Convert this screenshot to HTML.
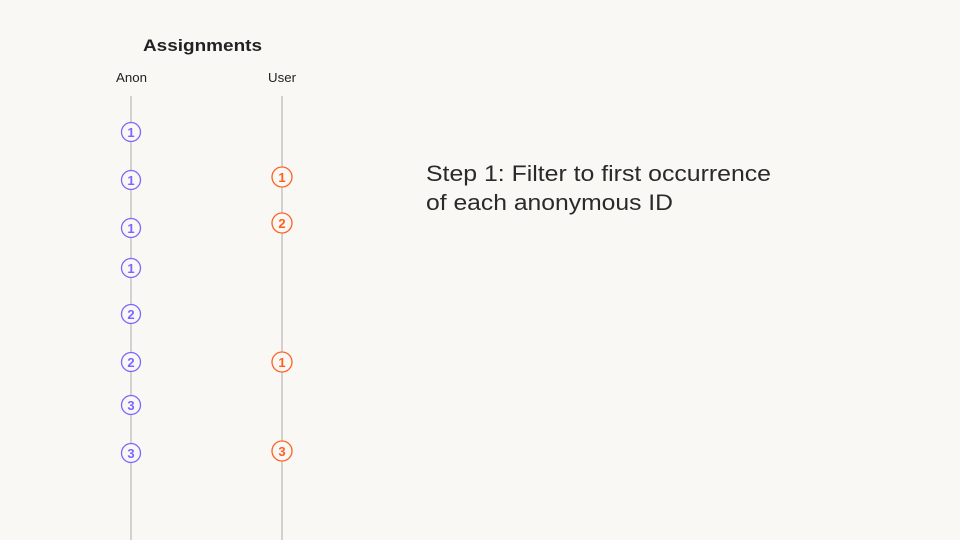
<!DOCTYPE html>
<html><head><style>
html,body{margin:0;padding:0;width:960px;height:540px;background:#faf8f5;overflow:hidden;font-family:"Liberation Sans",sans-serif;}
svg{display:block;}
</style></head><body>
<svg width="960" height="540" xmlns="http://www.w3.org/2000/svg">
<rect width="960" height="540" fill="#faf8f5"/>
<text x="143" y="51" textLength="119" lengthAdjust="spacingAndGlyphs" font-family="Liberation Sans, sans-serif" font-weight="bold" font-size="17" fill="#222">Assignments</text>
<text x="116" y="82" textLength="31" lengthAdjust="spacingAndGlyphs" font-family="Liberation Sans, sans-serif" font-size="12.5" fill="#222">Anon</text>
<text x="268" y="82" textLength="28" lengthAdjust="spacingAndGlyphs" font-family="Liberation Sans, sans-serif" font-size="12.5" fill="#222">User</text>
<line x1="131" y1="96" x2="131" y2="540" stroke="#aaa" stroke-width="1"/>
<line x1="282" y1="96" x2="282" y2="540" stroke="#aaa" stroke-width="1"/>
<g font-family="Liberation Sans, sans-serif" font-weight="bold" font-size="13" text-anchor="middle">
<g fill="#faf8f5" stroke="#7b66ff" stroke-width="1.3">
<circle cx="131" cy="132" r="9.5"/><circle cx="131" cy="180" r="9.5"/><circle cx="131" cy="228" r="9.5"/><circle cx="131" cy="268" r="9.5"/><circle cx="131" cy="314" r="9.5"/><circle cx="131" cy="362" r="9.5"/><circle cx="131" cy="405" r="9.5"/><circle cx="131" cy="453" r="9.5"/>
</g>
<g fill="#7b66ff">
<text x="131" y="137">1</text><text x="131" y="185">1</text><text x="131" y="233">1</text><text x="131" y="273">1</text><text x="131" y="319">2</text><text x="131" y="367">2</text><text x="131" y="410">3</text><text x="131" y="458">3</text>
</g>
<g fill="#faf8f5" stroke="#ff6020" stroke-width="1.3">
<circle cx="282" cy="177" r="10"/><circle cx="282" cy="223" r="10"/><circle cx="282" cy="362" r="10"/><circle cx="282" cy="451" r="10"/>
</g>
<g fill="#ff6020">
<text x="282" y="182">1</text><text x="282" y="228">2</text><text x="282" y="367">1</text><text x="282" y="456">3</text>
</g>
</g>
<text x="426" y="181" textLength="345" lengthAdjust="spacingAndGlyphs" font-family="Liberation Sans, sans-serif" font-size="22.5" fill="#2a2a2a">Step 1: Filter to first occurrence</text>
<text x="426" y="210" textLength="247" lengthAdjust="spacingAndGlyphs" font-family="Liberation Sans, sans-serif" font-size="22.5" fill="#2a2a2a">of each anonymous ID</text>
</svg>
</body></html>
